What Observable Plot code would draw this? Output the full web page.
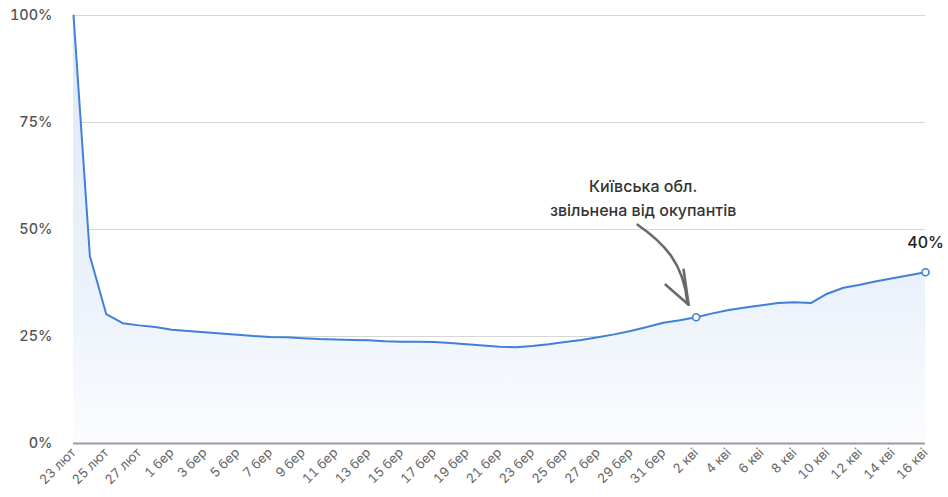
<!DOCTYPE html>
<html><head><meta charset="utf-8">
<script src="https://cdn.jsdelivr.net/npm/d3@7"></script>
<script src="https://cdn.jsdelivr.net/npm/@observablehq/plot@0.6"></script>
<style>
body{margin:0;background:#fff;}
#chart svg{display:block;}
</style>
</head><body><div id="chart"></div>
<script>
const dates = [
  "2022-02-23","2022-02-24","2022-02-25","2022-02-26","2022-02-27","2022-02-28",
  "2022-03-01","2022-03-02","2022-03-03","2022-03-04","2022-03-05","2022-03-06","2022-03-07","2022-03-08","2022-03-09","2022-03-10",
  "2022-03-11","2022-03-12","2022-03-13","2022-03-14","2022-03-15","2022-03-16","2022-03-17","2022-03-18","2022-03-19","2022-03-20",
  "2022-03-21","2022-03-22","2022-03-23","2022-03-24","2022-03-25","2022-03-26","2022-03-27","2022-03-28","2022-03-29","2022-03-30","2022-03-31",
  "2022-04-01","2022-04-02","2022-04-03","2022-04-04","2022-04-05","2022-04-06","2022-04-07","2022-04-08","2022-04-09","2022-04-10",
  "2022-04-11","2022-04-12","2022-04-13","2022-04-14","2022-04-15","2022-04-16"
];
const values = [
  100, 43.8, 30.2, 28.1, 27.6, 27.2,
  26.6, 26.3, 26.0, 25.7, 25.4, 25.1, 24.9, 24.8, 24.6, 24.4,
  24.3, 24.2, 24.1, 23.9, 23.8, 23.8, 23.7, 23.5, 23.2, 22.9,
  22.6, 22.5, 22.8, 23.2, 23.7, 24.2, 24.8, 25.5, 26.3, 27.2, 28.2,
  28.8, 29.5, 30.4, 31.2, 31.8, 32.3, 32.8, 33.0, 32.8, 35.0,
  36.4, 37.1, 37.9, 38.6, 39.3, 40.0
];
const monthNames = ["січ", "лют", "бер", "кві"];
const xTickDates = [
  "2022-02-23","2022-02-25","2022-02-27","2022-03-01","2022-03-03","2022-03-05","2022-03-07","2022-03-09",
  "2022-03-11","2022-03-13","2022-03-15","2022-03-17","2022-03-19","2022-03-21","2022-03-23","2022-03-25",
  "2022-03-27","2022-03-29","2022-03-31","2022-04-02","2022-04-04","2022-04-06","2022-04-08","2022-04-10",
  "2022-04-12","2022-04-14","2022-04-16"
];
const yTicks = [0, 25, 50, 75, 100];
const annotationDate = "2022-04-02";
const annotationText = "Київська обл.\nзвільнена від окупантів";
const lastDate = "2022-04-16";

const parse = d3.utcParse("%Y-%m-%d");
const data = dates.map((d, i) => ({date: parse(d), value: values[i]}));
const annot = data.filter(d => +d.date === +parse(annotationDate));
const last = data.filter(d => +d.date === +parse(lastDate));
const blue = "#3f80d9";

const arrowMark = (index, scales) => {
  const p = annot[0];
  const px = scales.x(p.date), py = scales.y(p.value);
  const g = d3.create("svg:g")
    .attr("transform", `translate(${px},${py})`)
    .attr("fill", "none")
    .attr("stroke", "#6a6a6a")
    .attr("stroke-width", 2.6)
    .attr("stroke-linecap", "round")
    .attr("stroke-linejoin", "round");
  g.append("path").attr("d", "M-58,-92 C-32,-74 -12,-54 -8,-13");
  g.append("path").attr("d", "M-30,-32 L-7,-12");
  g.append("path").attr("d", "M-12,-47 L-7,-12");
  return g.node();
};

const chart = Plot.plot({
  width: 948,
  height: 497,
  marginLeft: 73,
  marginRight: 23,
  marginTop: 15,
  marginBottom: 54,
  style: {fontFamily: "Inter, 'Noto Sans', sans-serif", color: "#555", background: "#fff", overflow: "visible"},
  x: {type: "utc", domain: [data[0].date, data[data.length - 1].date], label: null},
  y: {domain: [0, 100], label: null},
  marks: [
    Plot.gridY(yTicks, {stroke: "#d6d6d6", strokeOpacity: 1}),
    Plot.areaY(data, {x: "date", y: "value", fill: "url(#areaGrad)"}),
    Plot.ruleY([0], {stroke: "#9c9c9c", strokeWidth: 2.2}),
    Plot.lineY(data, {x: "date", y: "value", stroke: blue, strokeWidth: 2}),
    Plot.axisY({ticks: yTicks, tickFormat: d => d + "%", tickSize: 0, tickPadding: 21, fontSize: 14.5, fill: "#555", fontWeight: 500, label: null}),
    Plot.axisX({
      ticks: xTickDates.map(parse),
      tickFormat: d => `${d.getUTCDate()} ${monthNames[d.getUTCMonth()]}`,
      tickSize: 0, tickPadding: 7, tickRotate: -45, fontSize: 13, fill: "#666", label: null
    }),
    arrowMark,
    Plot.text(annot, {x: "date", y: "value", text: () => annotationText, dx: -53, dy: -121,
      fontSize: 16, lineHeight: 1.5, fill: "#333", fontWeight: 500}),
    Plot.text(last, {x: "date", y: "value", text: d => Math.round(d.value) + "%", dy: -29,
      fontSize: 16, fill: "#222", fontWeight: 500, stroke: "white", strokeWidth: 8, strokeLinejoin: "round"}),
    Plot.dot([...annot, ...last], {x: "date", y: "value", r: 3.5, fill: "white", stroke: blue, strokeWidth: 1.6})
  ]
});

const defs = d3.select(chart).insert("defs", ":first-child");
const grad = defs.append("linearGradient").attr("id", "areaGrad")
  .attr("x1", 0).attr("y1", 0).attr("x2", 0).attr("y2", 1);
grad.append("stop").attr("offset", "0%").attr("stop-color", "#dce8f8");
grad.append("stop").attr("offset", "65%").attr("stop-color", "#ecf2fb");
grad.append("stop").attr("offset", "100%").attr("stop-color", "#fbfcfe");

document.getElementById("chart").appendChild(chart);
</script>
</body></html>
